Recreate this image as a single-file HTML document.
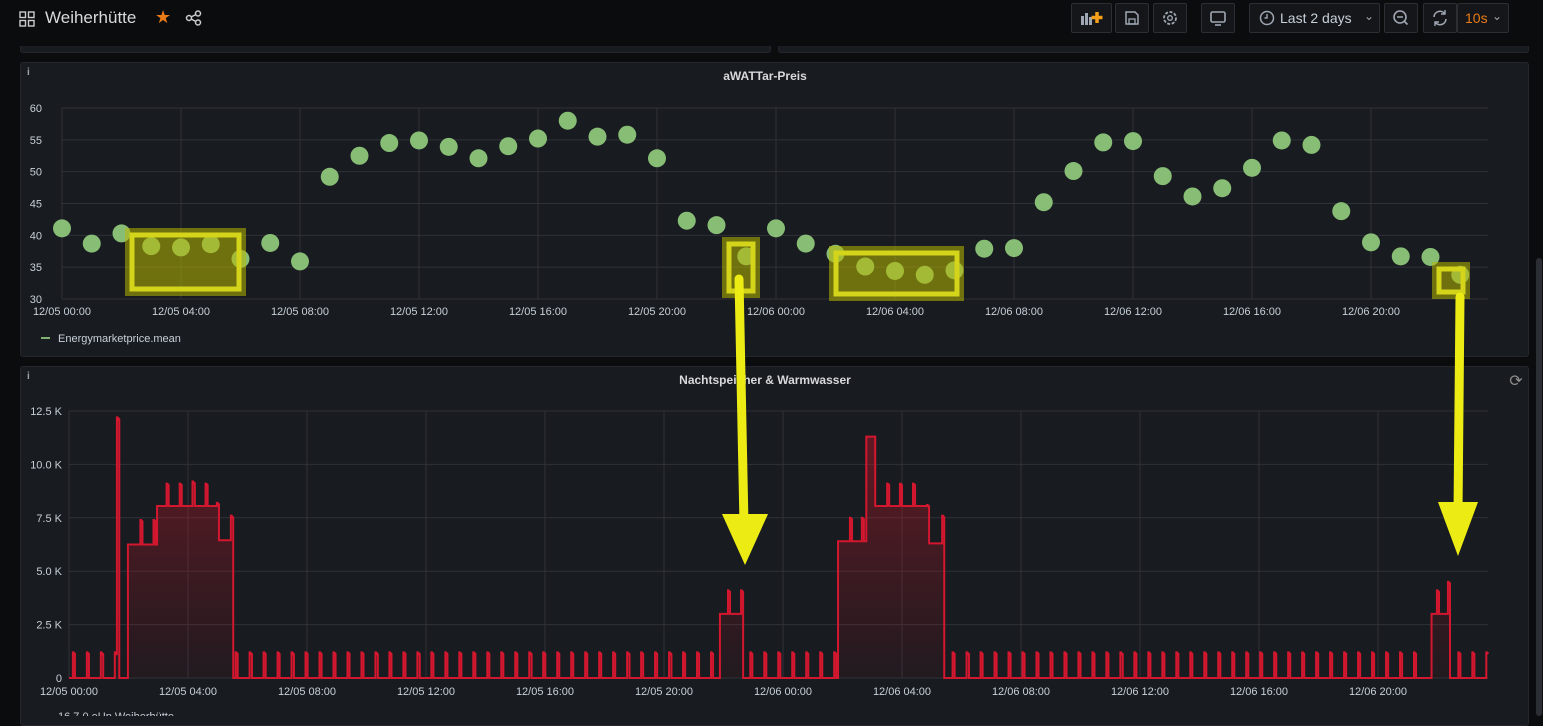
<!DOCTYPE html>
<html><head><meta charset="utf-8">
<style>
html,body{margin:0;padding:0;width:1543px;height:716px;overflow:hidden;background:#0b0c0e;font-family:"Liberation Sans",sans-serif;color:#d8d9da}
.abs{position:absolute}
.btn{position:absolute;top:3px;height:30px;border:1px solid #2c2e33;border-radius:2px;background:#141619;box-sizing:border-box}
.panel{position:absolute;background:#181b1f;border:1px solid #24262b;border-radius:3px;box-sizing:border-box}
</style></head><body>
<div class="panel" style="left:20px;top:20px;width:751px;height:33px;border-top:none"></div>
<div class="panel" style="left:778px;top:20px;width:751px;height:33px;border-top:none"></div>
<div class="abs" style="left:0;top:0;width:1543px;height:46px;background:#0b0c0e">
  <svg class="abs" style="left:19px;top:11px" width="16" height="16"><g fill="none" stroke="#ccc" stroke-width="1.4"><rect x="1" y="1" width="5.5" height="5.5"/><rect x="9.5" y="1" width="5.5" height="5.5"/><rect x="1" y="9.5" width="5.5" height="5.5"/><rect x="9.5" y="9.5" width="5.5" height="5.5"/></g></svg>
  <div class="abs" style="left:45px;top:8px;font-size:17px;color:#d8d9da">Weiherhütte</div>
  <div class="abs" style="left:155px;top:7px;font-size:18px;color:#eb7b18">★</div>
  <svg class="abs" style="left:185px;top:10px" width="18" height="16"><g fill="none" stroke="#ccc" stroke-width="1.5"><circle cx="4" cy="8" r="2.5"/><circle cx="13" cy="3.5" r="2.5"/><circle cx="13" cy="12.5" r="2.5"/><line x1="6" y1="7" x2="11" y2="4.5"/><line x1="6" y1="9" x2="11" y2="11.5"/></g></svg>
  <div class="btn" style="left:1071px;width:41px"><svg width="40" height="28"><g fill="#9fa7b3"><rect x="9" y="12" width="3" height="9"/><rect x="13" y="9" width="3" height="12"/><rect x="17" y="13" width="3" height="8"/></g><path d="M25 8v11M19.5 13.5h11" stroke="#f59f1b" stroke-width="3.5"/></svg></div>
  <div class="btn" style="left:1115px;width:34px"><svg width="32" height="28"><path d="M10 8h9l3 3v9H10z" fill="none" stroke="#9fa7b3" stroke-width="1.5"/><rect x="13" y="15" width="6" height="5" fill="none" stroke="#9fa7b3" stroke-width="1.3"/></svg></div>
  <div class="btn" style="left:1153px;width:34px"><svg width="32" height="28"><circle cx="16" cy="14" r="6" fill="none" stroke="#9fa7b3" stroke-width="1.8" stroke-dasharray="3 1.6"/><circle cx="16" cy="14" r="2.3" fill="none" stroke="#9fa7b3" stroke-width="1.4"/></svg></div>
  <div class="btn" style="left:1201px;width:34px"><svg width="32" height="28"><rect x="9" y="8" width="14" height="10" rx="1.5" fill="none" stroke="#9fa7b3" stroke-width="1.6"/><path d="M13 21h6" stroke="#9fa7b3" stroke-width="1.6"/></svg></div>
  <div class="btn" style="left:1249px;width:131px"><svg class="abs" style="left:9px;top:6px" width="16" height="16"><circle cx="8" cy="8" r="6.5" fill="none" stroke="#9fa7b3" stroke-width="1.5"/><path d="M8 4v4H5.5" fill="none" stroke="#9fa7b3" stroke-width="1.4"/></svg><span class="abs" style="left:30px;top:6px;font-size:14px;color:#c7d0d9">Last 2 days</span><span class="abs" style="left:114px;top:5px;font-size:12px;color:#9fa7b3">⌄</span></div>
  <div class="btn" style="left:1384px;width:34px"><svg width="32" height="28"><circle cx="15" cy="13" r="6" fill="none" stroke="#9fa7b3" stroke-width="1.6"/><path d="M12 13h6M19.5 17.5l3 3" stroke="#9fa7b3" stroke-width="1.6"/></svg></div>
  <div class="btn" style="left:1423px;width:34px"><svg width="32" height="28"><path d="M10 13a6 6 0 0 1 11-3M22 15a6 6 0 0 1-11 3" fill="none" stroke="#9fa7b3" stroke-width="1.6"/><path d="M21 6v4h-4M11 22v-4h4" fill="none" stroke="#9fa7b3" stroke-width="1.4"/></svg></div>
  <div class="btn" style="left:1457px;width:52px"><span class="abs" style="left:7px;top:6px;font-size:14px;color:#eb7b18">10s</span><span class="abs" style="left:34px;top:5px;font-size:12px;color:#9fa7b3">⌄</span></div>
</div>
<div class="abs" style="left:1536px;top:258px;width:6px;height:458px;background:#2b2e34;border-radius:3px"></div>
<div class="panel" style="left:20px;top:62px;width:1509px;height:295px"></div>
<div class="panel" style="left:20px;top:366px;width:1509px;height:360px"></div>
<svg class="abs" id="chart" style="left:0;top:0" width="1543" height="716"></svg>
<script>
// ---- Price chart data ----
const priceHours=[0,1,2,3,4,5,6,7,8,9,10,11,12,13,14,15,16,17,18,19,20,21,22,23,24,25,26,27,28,29,30,31,32,33,34,35,36,37,38,39,40,41,42,43,44,45,46,47];
const priceValues=[41.1,38.7,40.3,38.3,38.1,38.6,36.3,38.8,35.9,49.2,52.5,54.5,54.9,53.9,52.1,54.0,55.2,58.0,55.5,55.8,52.1,42.3,41.6,36.7,41.1,38.7,37.1,35.1,34.4,33.8,34.5,37.9,38.0,45.2,50.1,54.6,54.8,49.3,46.1,47.4,50.6,54.9,54.2,43.8,38.9,36.7,36.6,33.8];
const priceYTicks=[30,35,40,45,50,55,60];
const xTickHours=[0,4,8,12,16,20,24,28,32,36,40,44];
const xTickLabels=["12/05 00:00","12/05 04:00","12/05 08:00","12/05 12:00","12/05 16:00","12/05 20:00","12/06 00:00","12/06 04:00","12/06 08:00","12/06 12:00","12/06 16:00","12/06 20:00"];
// ---- Heating chart data ----
const powerYTicks=[0,2500,5000,7500,10000,12500];
const powerYLabels=["0","2.5 K","5.0 K","7.5 K","10.0 K","12.5 K"];
const blockStarts=[1.98,2.96,4.97,21.88,25.85,26.8,27.1,28.9,45.8];
const blockEnds=[2.96,4.97,5.48,22.62,26.8,27.1,28.9,29.38,46.35];
const blockLevels=[6250,8050,6450,3000,6400,11300,8050,6300,3000];
const spikeHours=[0.13,0.6,1.07,1.54,1.61,2.4,2.84,3.28,3.72,4.15,4.59,4.97,5.44,5.6,6.07,6.54,7.01,7.48,7.95,8.42,8.89,9.36,9.83,10.3,10.77,11.24,11.71,12.18,12.65,13.12,13.59,14.06,14.53,15.0,15.47,15.94,16.41,16.88,17.35,17.82,18.29,18.76,19.23,19.7,20.17,20.64,21.11,21.58,22.15,22.59,22.9,23.37,23.84,24.31,24.78,25.25,25.72,26.25,26.65,27.5,27.93,28.37,28.84,29.35,29.7,30.17,30.64,31.11,31.58,32.05,32.52,32.99,33.46,33.93,34.4,34.87,35.34,35.81,36.28,36.75,37.22,37.69,38.16,38.63,39.1,39.57,40.04,40.51,40.98,41.45,41.92,42.39,42.86,43.33,43.8,44.27,44.74,45.21,45.98,46.35,46.7,47.17,47.64];
const spikeValues=[1200,1200,1200,1200,12200,7400,7400,9100,9100,9200,9100,8200,7600,1200,1200,1200,1200,1200,1200,1200,1200,1200,1200,1200,1200,1200,1200,1200,1200,1200,1200,1200,1200,1200,1200,1200,1200,1200,1200,1200,1200,1200,1200,1200,1200,1200,1200,1200,4100,4100,1200,1200,1200,1200,1200,1200,1200,7500,7500,9100,9100,9100,8100,7600,1200,1200,1200,1200,1200,1200,1200,1200,1200,1200,1200,1200,1200,1200,1200,1200,1200,1200,1200,1200,1200,1200,1200,1200,1200,1200,1200,1200,1200,1200,1200,1200,1200,1200,4100,4500,1200,1200,1200];

const NS="http://www.w3.org/2000/svg";
const svg=document.getElementById('chart');
function mk(tag,attrs,parent){const e=document.createElementNS(NS,tag);for(const k in attrs)e.setAttribute(k,attrs[k]);(parent||svg).appendChild(e);return e;}
function txt(x,y,s,attrs){const t=mk('text',Object.assign({x:x,y:y,fill:'#c7d0d9','font-size':11,'font-family':'Liberation Sans, sans-serif'},attrs||{}));t.textContent=s;return t;}

const px1=h=>62+h*29.75, py1=v=>299-(v-30)*(191/30);
const px2=h=>69+h*29.75, py2=v=>678-v*(267/12500);
const H_END=(1488-69)/29.75;

// ---- Panel 1 ----
const i1=txt(27,75,'i',{fill:'#9fa7b3','font-size':10,'font-weight':'bold'});


const t1=txt(765,80,'aWATTar-Preis',{'text-anchor':'middle','font-size':12,'font-weight':'bold',fill:'#d8d9da'});


priceYTicks.forEach(v=>{
  const l=mk('line',{x1:62,x2:1488,y1:py1(v),y2:py1(v),stroke:'#2f3238','stroke-width':1});
  
  
  const t=txt(42,py1(v)+4,String(v),{'text-anchor':'end'});
  
  
});
xTickHours.forEach((h,i)=>{
  const l=mk('line',{x1:px1(h),x2:px1(h),y1:108,y2:299,stroke:'#2f3238'});
  
  
  const t=txt(px1(h),315,xTickLabels[i],{'text-anchor':'middle'});
  
  
});
priceValues.forEach((v,i)=>{
  const c=mk('circle',{cx:px1(priceHours[i]),cy:py1(v),r:9,fill:'#8dc67a','fill-opacity':0.95});
  
  
});
const lg=mk('line',{x1:41,x2:50,y1:338,y2:338,stroke:'#7eb26d','stroke-width':2});


const lt=txt(58,342,'Energymarketprice.mean',{fill:'#c7d0d9'});



// ---- Panel 2 ----
const i2=txt(27,379,'i',{fill:'#9fa7b3','font-size':10,'font-weight':'bold'});


const t2=txt(765,384,'Nachtspeicher & Warmwasser',{'text-anchor':'middle','font-size':12,'font-weight':'bold',fill:'#d8d9da'});


const rf=txt(1516,386,'⟳',{'text-anchor':'middle','font-size':16,fill:'#8e8e8e'});


powerYTicks.forEach((v,i)=>{
  const l=mk('line',{x1:69,x2:1488,y1:py2(v),y2:py2(v),stroke:'#2f3238'});
  
  
  const t=txt(62,py2(v)+4,powerYLabels[i],{'text-anchor':'end'});
  
  
});
xTickHours.forEach((h,i)=>{
  const l=mk('line',{x1:px2(h),x2:px2(h),y1:411,y2:678,stroke:'#2f3238'});
  
  
  const t=txt(px2(h),695,xTickLabels[i],{'text-anchor':'middle'});
  
  
});
function valueAt(h){
  let v=0;
  for(let i=0;i<blockStarts.length;i++) if(h>=blockStarts[i]&&h<blockEnds[i]) v=Math.max(v,blockLevels[i]);
  for(let i=0;i<spikeHours.length;i++) if(h>=spikeHours[i]&&h<spikeHours[i]+0.07) v=Math.max(v,spikeValues[i]-(h-spikeHours[i])*1500);
  return v;
}
const defs=mk('defs',{});
const gr=mk('linearGradient',{id:'fillg',x1:0,y1:0,x2:0,y2:1},defs);
mk('stop',{offset:'0','stop-color':'#c4162a','stop-opacity':0.45},gr);
mk('stop',{offset:'1','stop-color':'#c4162a','stop-opacity':0.05},gr);
let d='', prev=null;
const N=Math.floor(H_END*100);
for(let k=0;k<=N;k++){
  const h=k/100, v=valueAt(h);
  const x=px2(h).toFixed(2), y=py2(v).toFixed(2);
  if(k===0) d='M'+x+' '+y;
  else { if(v!==prev) d+=' L'+x+' '+py2(prev).toFixed(2); d+=' L'+x+' '+y; }
  prev=v;
}
const area=mk('path',{d:d+' L'+px2(N/100)+' 678 L69 678 Z',fill:'url(#fillg)'});


const line=mk('path',{d:d,fill:'none',stroke:'#d3172f','stroke-width':2,'stroke-linejoin':'miter'});


const bl=txt(58,720,'16.7.0 eUp Weiherhütte',{fill:'#c7d0d9'});



// ---- Annotations ----
[[125,228,121,68],[722,237,38,61],[829,246,135,55],[1432,262,38,37]].forEach(r=>{
  const o=mk('rect',{x:r[0],y:r[1],width:r[2],height:r[3],fill:'#b8b800','fill-opacity':0.55});
  
  
  const b=mk('rect',{x:r[0]+7,y:r[1]+7,width:r[2]-14,height:r[3]-14,fill:'none',stroke:'#d4d41a','stroke-width':5});
  
  
});
[[739,279,744,520,722,768,565],[1460,297,1458,508,1438,1478,556]].forEach(a=>{
  const s=mk('line',{x1:a[0],y1:a[1],x2:a[2],y2:a[3]+5,stroke:'#ecec14','stroke-width':9,'stroke-linecap':'round'});
  
  
  const hd=mk('polygon',{points:a[4]+','+(a[3]-6)+' '+a[5]+','+(a[3]-6)+' '+((a[4]+a[5])/2)+','+a[6],fill:'#ecec14'});
  
  
});
</script>
</body></html>
